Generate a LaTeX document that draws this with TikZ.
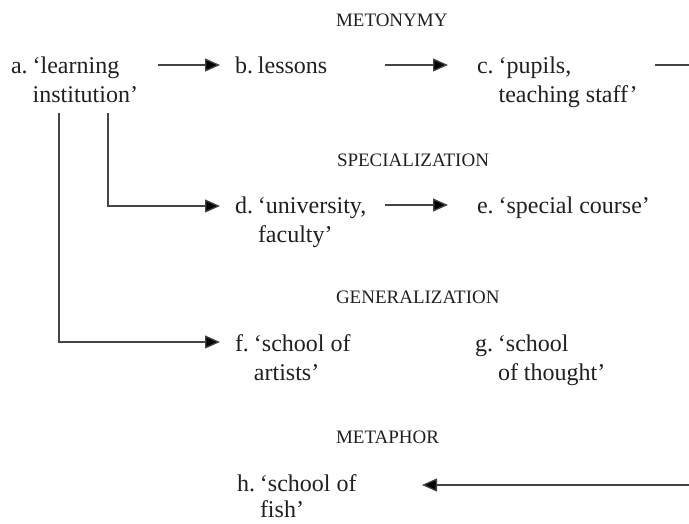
\documentclass[tikz,border=0pt]{standalone}
\usepackage{fontspec}
\setmainfont{Liberation Serif}
\usetikzlibrary{arrows.meta}
\definecolor{ink}{HTML}{231F20}
\definecolor{linec}{HTML}{444444}
\newcommand\itemlbl[3]{\begin{tabular}[t]{@{}l@{\hspace{5pt}}l@{}}#1&#2\\&#3\end{tabular}}
\newcommand\itemlblt[3]{\begin{tabular}[t]{@{}l@{\hspace{5pt}}l@{}}#1&#2\\[-3pt]&#3\end{tabular}}
\newcommand\itemone[2]{\begin{tabular}[t]{@{}l@{\hspace{5pt}}l@{}}#1&#2\end{tabular}}
\begin{document}
\begin{tikzpicture}[x=1pt,y=-1pt,
  lbl/.style={anchor=base west,inner sep=0pt,outer sep=0pt,text=ink,font=\fontsize{24}{29}\selectfont},
  head/.style={anchor=base west,inner sep=0pt,outer sep=0pt,text=ink,font=\fontsize{19}{22}\selectfont},
  conn/.style={draw=linec,line width=1.3pt},
  arr/.style={conn,-{Triangle[length=15pt,width=13pt,fill=black]}}]
\useasboundingbox[fill=white] (0,0) rectangle (689,523);

\node[head] (hmet)  at (336,26)  {METONYMY};
\node[head] (hspec) at (337,166) {SPECIALIZATION};
\node[head] (hgen)  at (336,303) {GENERALIZATION};
\node[head] (hmeta) at (336,443) {METAPHOR};

\node[lbl] (a) at (11,73)   {\itemlbl{a.}{‘learning}{institution’}};
\node[lbl] (b) at (235,73)  {\itemone{b.}{lessons}};
\node[lbl] (c) at (477,73)  {\itemlbl{c.}{‘pupils,}{teaching staff’}};
\node[lbl] (d) at (235,213) {\itemlbl{d.}{‘university,}{faculty’}};
\node[lbl] (e) at (477,213) {\itemone{e.}{‘special course’}};
\node[lbl] (f) at (235,351) {\itemlbl{f.}{‘school of}{artists’}};
\node[lbl] (g) at (475,351) {\itemlbl{g.}{‘school}{of thought’}};
\node[lbl] (h) at (237,491) {\itemlblt{h.}{‘school of}{fish’}};

\coordinate (cr) at (689,65);
\coordinate (hr) at (689,485);

\draw[arr] ([shift={(147,-8)}]a.base west) -- ([shift={(-15,-8)}]b.base west);
\draw[arr] ([shift={(150,-8)}]b.base west) -- ([shift={(-29,-8)}]c.base west);
\draw[conn] ([shift={(178,-8)}]c.base west) -- (cr);
\draw[arr] ([shift={(97,40)}]a.base west) |- ([shift={(-15,-7)}]d.base west);
\draw[arr] ([shift={(48,40)}]a.base west) |- ([shift={(-15,-9)}]f.base west);
\draw[arr] ([shift={(150,-8)}]d.base west) -- ([shift={(-29,-8)}]e.base west);
\draw[arr] (hr) -- ([shift={(185,-6)}]h.base west);
\end{tikzpicture}
\end{document}
